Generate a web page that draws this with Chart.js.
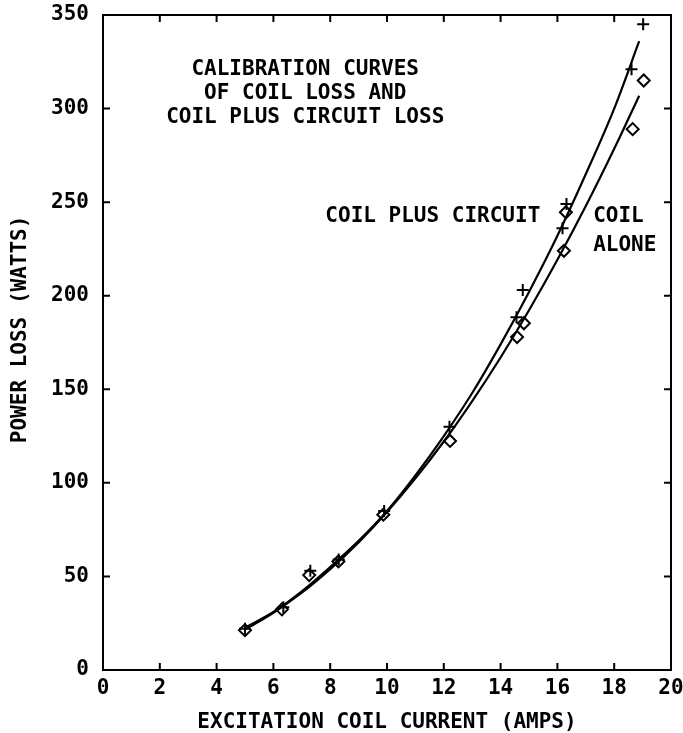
<!DOCTYPE html>
<html>
<head>
<meta charset="utf-8">
<title>Calibration curves of coil loss</title>
<script src="https://cdn.jsdelivr.net/npm/chart.js@4/dist/chart.umd.min.js"></script>
<style>
  html, body { margin: 0; padding: 0; background: #ffffff; }
  #wrap { width: 683px; height: 733px; position: relative; }
</style>
</head>
<body>
<div id="wrap"><canvas id="chart" width="683" height="733"></canvas></div>
<script>
// Axis tick values
const xTickValues = [0, 2, 4, 6, 8, 10, 12, 14, 16, 18, 20];
const yTickValues = [0, 50, 100, 150, 200, 250, 300, 350];

// Measured points: coil plus circuit (+)
const circuitCurrent = [5.0, 6.35, 7.3, 8.3, 9.9, 12.2, 14.56, 14.78, 16.18, 16.32, 18.61, 19.02];
const circuitLoss    = [22, 33.5, 53, 59, 85, 130, 188.5, 203, 236, 249, 321, 345];

// Measured points: coil alone (diamonds)
const coilCurrent = [5.0, 6.3, 7.26, 8.29, 9.87, 12.22, 14.58, 14.82, 16.23, 16.3, 18.65, 19.04];
const coilLoss    = [21.3, 32.4, 50.7, 58, 83, 122.4, 177.9, 185.3, 224, 244.6, 289, 315];

// Smooth calibration curves
const fitCurrent = [5.05, 6, 7, 8, 9, 10, 11, 12, 13, 14, 15, 16, 17, 18, 18.88];
const circuitFit = [23, 31, 42, 55, 69, 85, 104, 125, 148, 174, 202, 232, 265, 300, 336];
const coilFit    = [22, 30.6, 41.3, 53.9, 68.2, 84.4, 102.4, 122.1, 143.7, 167, 192.2, 219.2, 247.9, 278.5, 306.9];

// Text blocks
const titleLines = ['CALIBRATION CURVES', 'OF COIL LOSS AND', 'COIL PLUS CIRCUIT LOSS'];
const circuitLabel = 'COIL PLUS CIRCUIT';
const coilLabelLines = ['COIL', 'ALONE'];
const xTitle = 'EXCITATION COIL CURRENT (AMPS)';
const yTitle = 'POWER LOSS (WATTS)';

const FONT = '"DejaVu Sans Mono", "Liberation Mono", monospace';
const WEIGHT = 'bold';
const INK = '#000000';

const pairs = (xs, ys) => xs.map((x, i) => ({ x: x, y: ys[i] }));

// Frame with inward tick marks on all four sides, plus the in-plot text
const framePlugin = {
  id: 'frame',
  afterDraw(chart) {
    const { ctx, chartArea: a, scales: { x, y } } = chart;
    ctx.save();
    ctx.strokeStyle = INK;
    ctx.lineWidth = 2;
    ctx.strokeRect(a.left, a.top, a.right - a.left, a.bottom - a.top);
    const tl = 7;
    ctx.beginPath();
    xTickValues.forEach(v => {
      const px = x.getPixelForValue(v);
      ctx.moveTo(px, a.bottom); ctx.lineTo(px, a.bottom - tl);
      ctx.moveTo(px, a.top); ctx.lineTo(px, a.top + tl);
    });
    yTickValues.forEach(v => {
      const py = y.getPixelForValue(v);
      ctx.moveTo(a.left, py); ctx.lineTo(a.left + tl, py);
      ctx.moveTo(a.right, py); ctx.lineTo(a.right - tl, py);
    });
    ctx.stroke();

    ctx.fillStyle = INK;
    ctx.font = WEIGHT + ' 21px ' + FONT;
    ctx.textBaseline = 'middle';
    // Title block, centred
    ctx.textAlign = 'center';
    const tx = x.getPixelForValue(7.12);
    const ty = y.getPixelForValue(320.7);
    titleLines.forEach((t, i) => ctx.fillText(t, tx, ty + i * 24));
    // Curve labels
    ctx.textAlign = 'left';
    ctx.fillText(circuitLabel, x.getPixelForValue(7.83), y.getPixelForValue(242.3));
    const cx = x.getPixelForValue(17.26);
    const cy = y.getPixelForValue(242.3);
    coilLabelLines.forEach((t, i) => ctx.fillText(t, cx, cy + i * 29));

    // Vertical axis title, set a little above the middle of the axis
    ctx.translate(a.left - 82, y.getPixelForValue(182));
    ctx.rotate(-Math.PI / 2);
    ctx.textAlign = 'center';
    ctx.fillText(yTitle, 0, 0);
    ctx.restore();
  }
};

new Chart(document.getElementById('chart'), {
  type: 'scatter',
  data: {
    datasets: [
      {
        label: 'Coil plus circuit (curve)',
        type: 'line',
        data: pairs(fitCurrent, circuitFit),
        borderColor: INK,
        borderWidth: 2.2,
        pointRadius: 0,
        cubicInterpolationMode: 'monotone',
        fill: false
      },
      {
        label: 'Coil alone (curve)',
        type: 'line',
        data: pairs(fitCurrent, coilFit),
        borderColor: INK,
        borderWidth: 2.2,
        pointRadius: 0,
        cubicInterpolationMode: 'monotone',
        fill: false
      },
      {
        label: 'Coil alone',
        data: pairs(coilCurrent, coilLoss),
        pointStyle: 'rectRot',
        pointRadius: 6,
        pointBorderWidth: 2,
        borderColor: INK,
        backgroundColor: 'rgba(0,0,0,0)'
      },
      {
        label: 'Coil plus circuit',
        data: pairs(circuitCurrent, circuitLoss),
        pointStyle: 'cross',
        pointRadius: 6,
        pointBorderWidth: 2,
        borderColor: INK,
        backgroundColor: INK
      }
    ]
  },
  options: {
    responsive: false,
    animation: false,
    devicePixelRatio: 1,
    layout: { padding: { top: 15, right: 12, bottom: 0, left: 0 } },
    plugins: {
      legend: { display: false },
      tooltip: { enabled: false },
      title: { display: false }
    },
    scales: {
      x: {
        type: 'linear',
        min: 0,
        max: 20,
        afterBuildTicks(s) { s.ticks = xTickValues.map(v => ({ value: v })); },
        afterFit(s) { s.height = 63; s.paddingLeft = 0; s.paddingRight = 0; },
        grid: { display: false, drawTicks: false },
        border: { display: false },
        ticks: {
          color: INK,
          font: { family: FONT, size: 21, weight: WEIGHT },
          padding: 6,
          maxRotation: 0,
          autoSkip: false
        },
        title: {
          display: true,
          text: xTitle,
          color: INK,
          font: { family: FONT, size: 21, weight: WEIGHT, lineHeight: 1 },
          padding: { top: 0, bottom: 0 }
        }
      },
      y: {
        type: 'linear',
        min: 0,
        max: 350,
        afterBuildTicks(s) { s.ticks = yTickValues.map(v => ({ value: v })); },
        afterFit(s) { s.width = 103; s.paddingTop = 0; s.paddingBottom = 0; },
        grid: { display: false, drawTicks: false },
        border: { display: false },
        ticks: {
          color: INK,
          font: { family: FONT, size: 21, weight: WEIGHT },
          padding: 14,
          autoSkip: false
        },
        title: { display: false }
      }
    }
  },
  plugins: [framePlugin]
});
</script>
</body>
</html>
